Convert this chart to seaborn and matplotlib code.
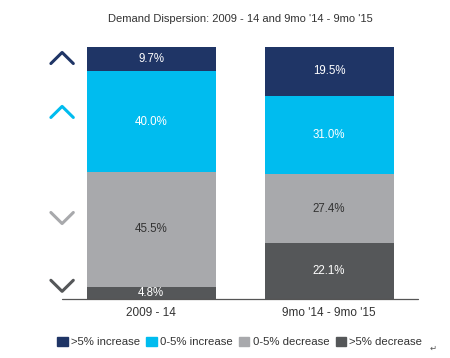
import matplotlib
matplotlib.use("Agg")
import matplotlib.pyplot as plt
import seaborn as sns
import pandas as pd
from matplotlib.patches import Patch
from matplotlib.lines import Line2D

# Data
periods = ["2009 - 14", "9mo '14 - 9mo '15"]
categories = [">5% increase", "0-5% increase", "0-5% decrease", ">5% decrease"]
gt5_increase = [9.7, 19.5]
inc_0_5 = [40.0, 31.0]
dec_0_5 = [45.5, 27.4]
gt5_decrease = [4.8, 22.1]
title = "Demand Dispersion: 2009 - 14 and 9mo '14 - 9mo '15"

colors = ["#1f3566", "#00bcef", "#a8a9ac", "#555759"]
label_colors = ["white", "white", "#333333", "white"]

sns.set_style("white")
plt.rcParams['font.family'] = ['Liberation Sans', 'DejaVu Sans']

# series listed top -> bottom
series = [gt5_increase, inc_0_5, dec_0_5, gt5_decrease]
df = pd.DataFrame({c: s for c, s in zip(categories, series)}, index=periods)

# cumulative tops (bottom segment first)
bottom_up = categories[::-1]
cum = df[bottom_up].cumsum(axis=1)

fig = plt.figure(figsize=(4.5, 3.58), dpi=100)
ax = fig.add_axes([0.138, 0.165, 0.791, 0.704])

# draw the tallest cumulative bar first so each lower segment sits on top
for cat, col in zip(categories, colors):
    sns.barplot(x=periods, y=cum[cat].values, color=col, width=0.725,
                saturation=1, ax=ax, order=periods, linewidth=0,
                edgecolor=col)

# segment labels
for i, p in enumerate(periods):
    base = 0
    for cat in bottom_up:
        v = df.loc[p, cat]
        lc = label_colors[categories.index(cat)]
        ax.text(i, base + v / 2, f"{v:.1f}%", ha="center", va="center",
                color=lc, fontsize=8.3)
        base += v

ax.set_xlim(-0.5, 1.5)
ax.set_ylim(0, 100)
sns.despine(ax=ax, left=True, bottom=True)
ax.set_yticks([])
ax.set_ylabel("")
ax.tick_params(axis="x", length=0, pad=6, labelsize=8.5, labelcolor="#333333")
ax.axhline(0, color="#555555", lw=0.9, clip_on=False)

# chevrons on the left
chev = [(0.956, 1, colors[0]), (0.742, 1, colors[1]),
        (0.321, -1, colors[2]), (0.052, -1, colors[3])]
for yc, d, col in chev:
    ax.add_line(Line2D([-0.563, -0.50, -0.437],
                       [yc * 100 - d * 2.2, yc * 100 + d * 2.2, yc * 100 - d * 2.2],
                       color=col, lw=2.2, clip_on=False))

fig.text(0.535, 0.948, title, ha="center", va="center", fontsize=8,
         color="#333333")

handles = [Patch(facecolor=c, edgecolor=c) for c in colors]
fig.legend(handles, categories, loc="center", bbox_to_anchor=(0.533, 0.045),
           ncol=4, frameon=False, fontsize=8.2, handlelength=0.9,
           handleheight=0.9, handletextpad=0.3, columnspacing=0.55,
           labelcolor="#333333", borderpad=0)
fig.text(0.962, 0.028, "\u21b5", ha="center", va="center", fontsize=6,
         color="#555555", family="DejaVu Sans")

fig.savefig("out.png", dpi=100)
